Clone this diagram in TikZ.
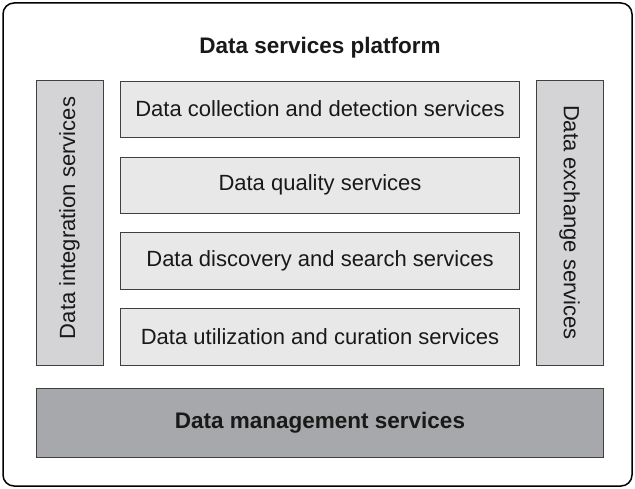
\documentclass[tikz,border=0pt]{standalone}
\usepackage{fontspec}
\setmainfont{Liberation Sans}
\begin{document}
\begin{tikzpicture}[x=1pt,y=-1pt,
  side/.style={draw=black!75,line width=0.9pt,fill=sidegray},
  mid/.style={draw=black!75,line width=0.9pt,fill=midgray},
  txt/.style={font=\fontsize{22}{26}\selectfont,text=black!90},
  btxt/.style={font=\fontsize{22.5}{27}\selectfont\bfseries,text=black!90}]
\definecolor{sidegray}{HTML}{D4D4D6}
\definecolor{midgray}{HTML}{E8E8E9}
\definecolor{mgmtgray}{HTML}{A7A8AB}
\useasboundingbox (0,0) rectangle (635,489);
\draw[line width=1.5pt,rounded corners=11pt] (3,3) rectangle (632,486);
\node[btxt] (title) at (320,48) {Data services platform};
\draw[side] (36,80) rectangle (103,365);
\node[txt,rotate=90] (integ) at (69.5,218) {Data integration services};
\draw[side] (536,80) rectangle (603,365);
\node[txt,rotate=-90] (exch) at (569.5,222.5) {Data exchange services};
\draw[mid] (120,81) rectangle (519,137);
\node[txt] (coll) at (320,109) {Data collection and detection services};
\draw[mid] (120,157) rectangle (519,213);
\node[txt] (qual) at (320,185) {Data quality services};
\draw[mid] (120,232) rectangle (519,289);
\node[txt] (disc) at (320,260.5) {Data discovery and search services};
\draw[mid] (120,308) rectangle (519,365);
\node[txt] (util) at (320,336.5) {Data utilization and curation services};
\draw[side,fill=mgmtgray] (36,388) rectangle (603,457);
\node[btxt] (mgmt) at (320,422.5) {Data management services};
\end{tikzpicture}
\end{document}
